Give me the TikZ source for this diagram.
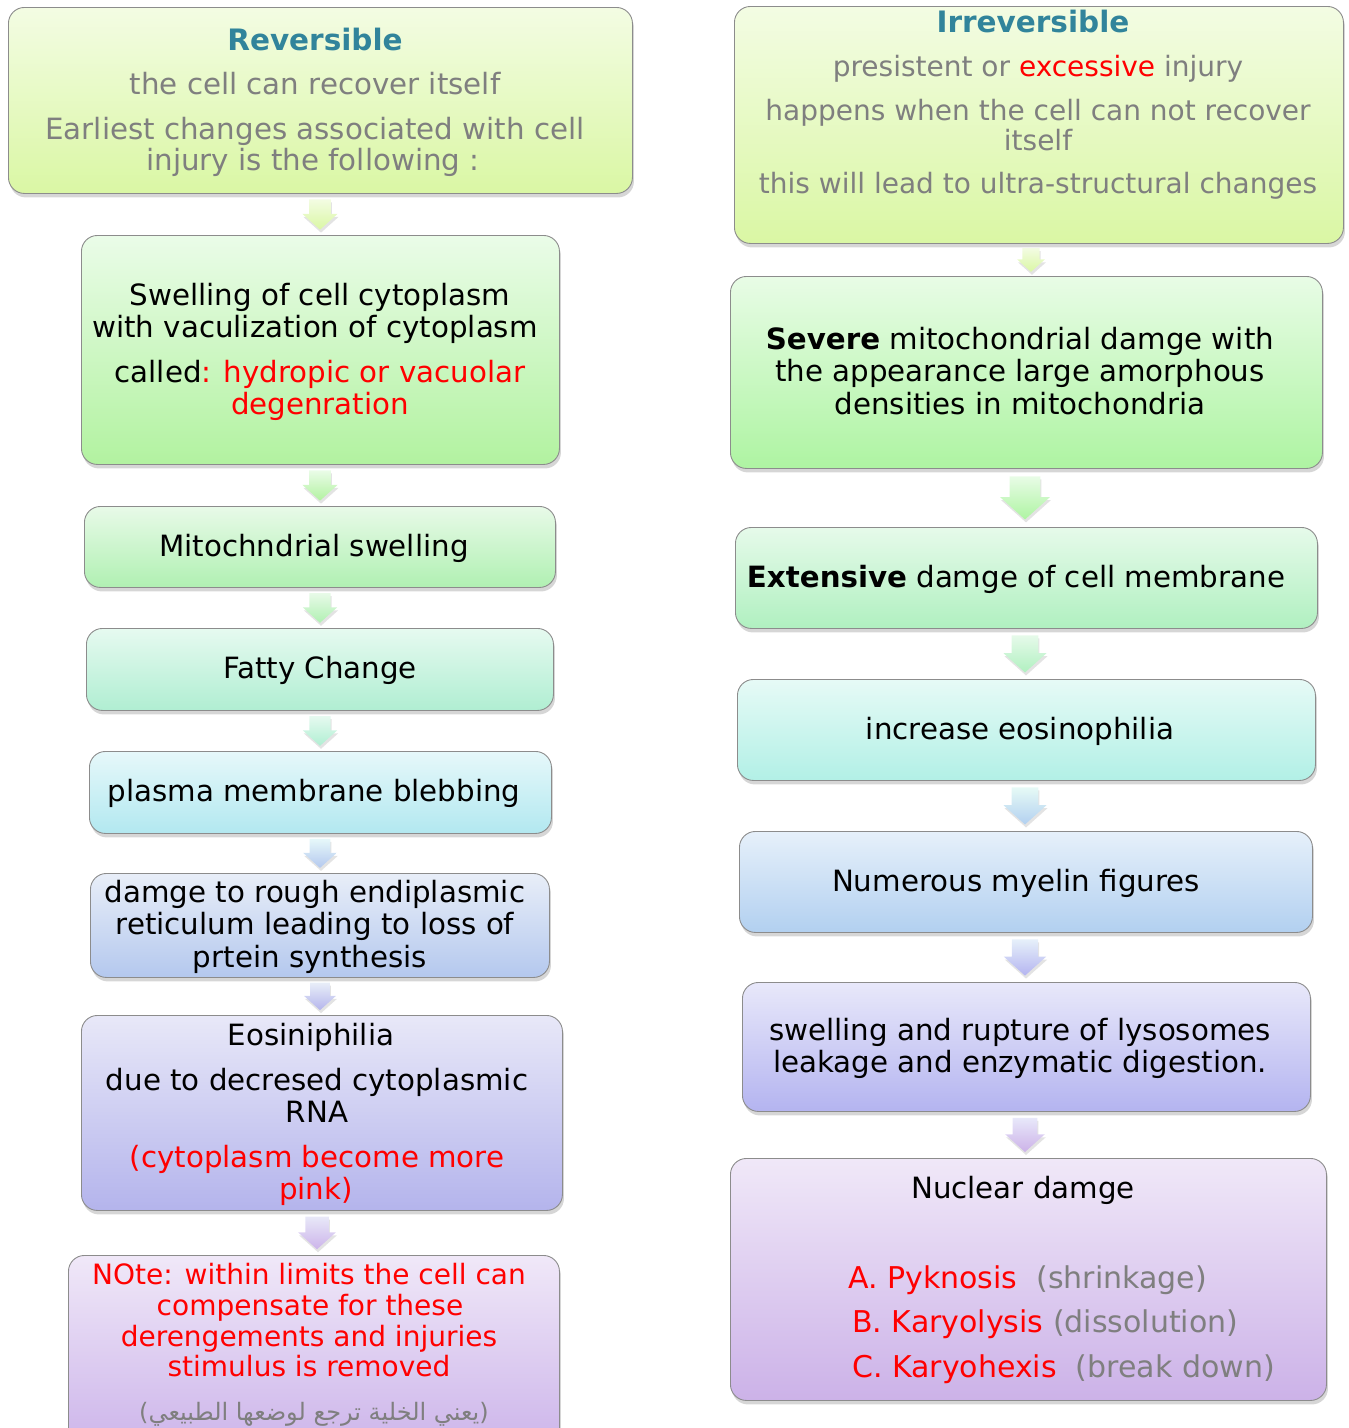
\documentclass[tikz,border=0pt]{standalone}
\usepackage{fontspec}
\setmainfont{DejaVu Sans}
\newfontfamily\arabicfont[Script=Arabic]{DejaVu Sans}
\TeXXeTstate=1
\usetikzlibrary{shadows,calc}

\definecolor{titleteal}{HTML}{31849B}
\definecolor{graytext}{HTML}{7F7F7F}
\definecolor{redtext}{HTML}{FF0000}
\definecolor{borderc}{HTML}{8C8C8C}
% box gradients
\definecolor{ygT}{HTML}{F3FCE3}\definecolor{ygB}{HTML}{DAF7A4}
\definecolor{gaT}{HTML}{EAFCE8}\definecolor{gaB}{HTML}{B2F2A0}
\definecolor{gbT}{HTML}{E8FAE8}\definecolor{gbB}{HTML}{B0F0B2}
\definecolor{mnT}{HTML}{E6FAF0}\definecolor{mnB}{HTML}{B0EED2}
\definecolor{cyT}{HTML}{E6F8FA}\definecolor{cyB}{HTML}{B2E8F0}
\definecolor{blT}{HTML}{E8EEF8}\definecolor{blB}{HTML}{B4C8EE}
\definecolor{lvT}{HTML}{E8E8F8}\definecolor{lvB}{HTML}{B4B4EC}
\definecolor{puT}{HTML}{F0E8F8}\definecolor{puB}{HTML}{CCB4EA}
\definecolor{rgT}{HTML}{E8FCE6}\definecolor{rgB}{HTML}{AEF4A2}
\definecolor{rmT}{HTML}{E6FAEA}\definecolor{rmB}{HTML}{B0F0C0}
\definecolor{rcT}{HTML}{E6FAF6}\definecolor{rcB}{HTML}{B2F0E6}
\definecolor{rbT}{HTML}{E6F0FA}\definecolor{rbB}{HTML}{B2D0F0}
\definecolor{rlT}{HTML}{E8E8FA}\definecolor{rlB}{HTML}{B4B4F0}
\definecolor{rpT}{HTML}{F0E8F8}\definecolor{rpB}{HTML}{CCB2E8}

\tikzset{
  cellbox/.style={rectangle, rounded corners=16pt, draw=borderc, line width=0.9pt,
    inner sep=0pt, drop shadow={opacity=0.32, shadow xshift=1.5pt, shadow yshift=-4pt}},
  txt/.style={anchor=mid, yshift=-8pt, inner sep=0pt, font=\fontsize{29.3}{32}\selectfont, text=black},
  gtxt/.style={txt, text=graytext},
  rtxt/.style={txt, text=redtext},
  smalltxt/.style={font=\fontsize{28}{32}\selectfont},
  ttl/.style={txt, text=titleteal, font=\fontsize{29.5}{32}\selectfont\bfseries},
  ltxt/.style={txt, anchor=mid west, font=\fontsize{30}{32}\selectfont},
}

% \cellboxdraw{name}{x1}{y1}{x2}{y2}{top}{bottom}
\newcommand{\cellboxdraw}[7]{%
  \node[cellbox, anchor=north west, minimum width={(#4-#2)*1pt},
        minimum height={(#5-#3)*1pt}, top color=#6, bottom color=#7] (#1) at (#2,#3) {};}

% \blockarrow{from}{to}{x}{top}{bottom}
\newcommand{\blockarrow}[5]{%
  \shade[top color=#4, bottom color=#5,
         drop shadow={opacity=0.22, shadow xshift=1pt, shadow yshift=-3pt}]
   let \p1=(#1.south), \p2=(#2.north),
       \n1={\y1-\y2}, \n2={0.13*\n1}, \n3={\n1-2*\n2},
       \n4={\y1-\n2}, \n5={\y2+\n2}, \n6={\n4-0.48*\n3}
   in ({#3pt-0.36*\n3},{\n4}) -- ({#3pt+0.36*\n3},{\n4}) -- ({#3pt+0.36*\n3},{\n6})
      -- ({#3pt+0.58*\n3},{\n6}) -- ({#3pt},{\n5}) -- ({#3pt-0.58*\n3},{\n6})
      -- ({#3pt-0.36*\n3},{\n6}) -- cycle;}

\begin{document}
\begin{tikzpicture}[x=1pt, y=-1pt]
\useasboundingbox (0,0) rectangle (1349,1428);
\clip (0,0) rectangle (1349,1428);

% ---------------- left column boxes ----------------
\cellboxdraw{L1}{8}{7}{632}{193}{ygT}{ygB}
\cellboxdraw{L2}{81}{235}{559}{464}{gaT}{gaB}
\cellboxdraw{L3}{84}{506}{555}{587}{gbT}{gbB}
\cellboxdraw{L4}{86}{628}{553}{710}{mnT}{mnB}
\cellboxdraw{L5}{89}{751}{551}{833}{cyT}{cyB}
\cellboxdraw{L6}{90}{873}{549}{977}{blT}{blB}
\cellboxdraw{L7}{81}{1015}{562}{1210}{lvT}{lvB}
\cellboxdraw{L8}{68}{1255}{559}{1450}{puT}{puB}

% ---------------- right column boxes ----------------
\cellboxdraw{R1}{734}{6}{1343}{243}{ygT}{ygB}
\cellboxdraw{R2}{730}{276}{1322}{468}{rgT}{rgB}
\cellboxdraw{R3}{735}{527}{1317}{628}{rmT}{rmB}
\cellboxdraw{R4}{737}{679}{1315}{780}{rcT}{rcB}
\cellboxdraw{R5}{739}{831}{1312}{932}{rbT}{rbB}
\cellboxdraw{R6}{742}{982}{1310}{1111}{rlT}{rlB}
\cellboxdraw{R7}{730}{1158}{1326}{1400}{rpT}{rpB}

% ---------------- arrows ----------------
\blockarrow{L1}{L2}{320}{ygT}{ygB}
\blockarrow{L2}{L3}{320}{gaT}{gaB}
\blockarrow{L3}{L4}{320}{gbT}{gbB}
\blockarrow{L4}{L5}{320}{mnT}{mnB}
\blockarrow{L5}{L6}{320}{cyT}{blB}
\blockarrow{L6}{L7}{320}{blT}{lvB}
\blockarrow{L7}{L8}{317}{lvT}{puB}

\blockarrow{R1}{R2}{1031}{ygT}{ygB}
\blockarrow{R2}{R3}{1025}{rgT}{rgB}
\blockarrow{R3}{R4}{1025}{rmT}{rmB}
\blockarrow{R4}{R5}{1025}{rcT}{rbB}
\blockarrow{R5}{R6}{1025}{rbT}{rlB}
\blockarrow{R6}{R7}{1025}{rlT}{rpB}

% ---------------- left texts ----------------
\node[ttl]  (l1a) at (315,40)  {Reversible};
\node[gtxt] (l1b) at (315,84)  {the cell can recover itself};
\node[gtxt] (l1c) at (315,129) {Earliest changes associated with cell};
\node[gtxt] (l1d) at (313,160) {injury is the following :};

\node[txt]  (l2a) at (320,295) {Swelling of cell cytoplasm};
\node[txt]  (l2b) at (315,327) {with vaculization of cytoplasm};
\node[txt]  (l2c) at (320,372) {called\textcolor{redtext}{: hydropic or vacuolar}};
\node[rtxt] (l2d) at (320,404) {degenration};

\node[txt]  (l3a) at (314,546) {Mitochndrial swelling};
\node[txt]  (l4a) at (320,668) {Fatty Change};
\node[txt]  (l5a) at (314,791) {plasma membrane blebbing};

\node[txt]  (l6a) at (315,892) {damge to rough endiplasmic};
\node[txt]  (l6b) at (315,924) {reticulum leading to loss of};
\node[txt]  (l6c) at (310,957) {prtein synthesis};

\node[txt]  (l7a) at (311,1035) {Eosiniphilia};
\node[txt]  (l7b) at (317,1080) {due to decresed cytoplasmic};
\node[txt]  (l7c) at (317,1112) {RNA};
\node[rtxt] (l7d) at (317,1157) {(cytoplasm become more};
\node[rtxt] (l7e) at (316,1189) {pink)};

\node[rtxt, smalltxt] (l8a) at (309,1274) {NOte: within limits the cell can};
\node[rtxt, smalltxt] (l8b) at (310,1305) {compensate for these};
\node[rtxt, smalltxt] (l8c) at (309,1336) {derengements and injuries};
\node[rtxt, smalltxt] (l8d) at (309,1366) {stimulus is removed};
\node[gtxt, font=\fontsize{24}{28}\selectfont] (l8e) at (314,1410)
  {({\arabicfont\beginR يعني الخلية ترجع لوضعها الطبيعي\endR})};

% ---------------- right texts ----------------
\node[ttl]  (r1a) at (1033,22)  {Irreversible};
\node[gtxt, smalltxt] (r1b) at (1038,66)  {presistent or \textcolor{redtext}{excessive} injury};
\node[gtxt, smalltxt] (r1c) at (1038,110) {happens when the cell can not recover};
\node[gtxt, smalltxt] (r1d) at (1038,140) {itself};
\node[gtxt, smalltxt] (r1e) at (1038,183) {this will lead to ultra-structural changes};

\node[txt]  (r2a) at (1020,339) {\textbf{Severe} mitochondrial damge with};
\node[txt]  (r2b) at (1020,371) {the appearance large amorphous};
\node[txt]  (r2c) at (1020,404) {densities in mitochondria};

\node[txt]  (r3a) at (1016,577) {\textbf{Extensive} damge of cell membrane};
\node[txt]  (r4a) at (1020,729) {increase eosinophilia};
\node[txt]  (r5a) at (1016,881) {Numerous myelin figures};

\node[txt]  (r6a) at (1020,1030) {swelling and rupture of lysosomes};
\node[txt]  (r6b) at (1020,1062) {leakage and enzymatic digestion.};

\node[txt]  (r7a) at (1023,1188) {Nuclear damge};
\node[ltxt] (r7b) at (848,1278) {\textcolor{redtext}{A. Pyknosis}\ \ \textcolor{graytext}{(shrinkage)}};
\node[ltxt] (r7c) at (852,1322) {\textcolor{redtext}{B. Karyolysis} \textcolor{graytext}{(dissolution)}};
\node[ltxt] (r7d) at (852,1367) {\textcolor{redtext}{C. Karyohexis}\ \ \textcolor{graytext}{(break down)}};
\end{tikzpicture}
\end{document}
